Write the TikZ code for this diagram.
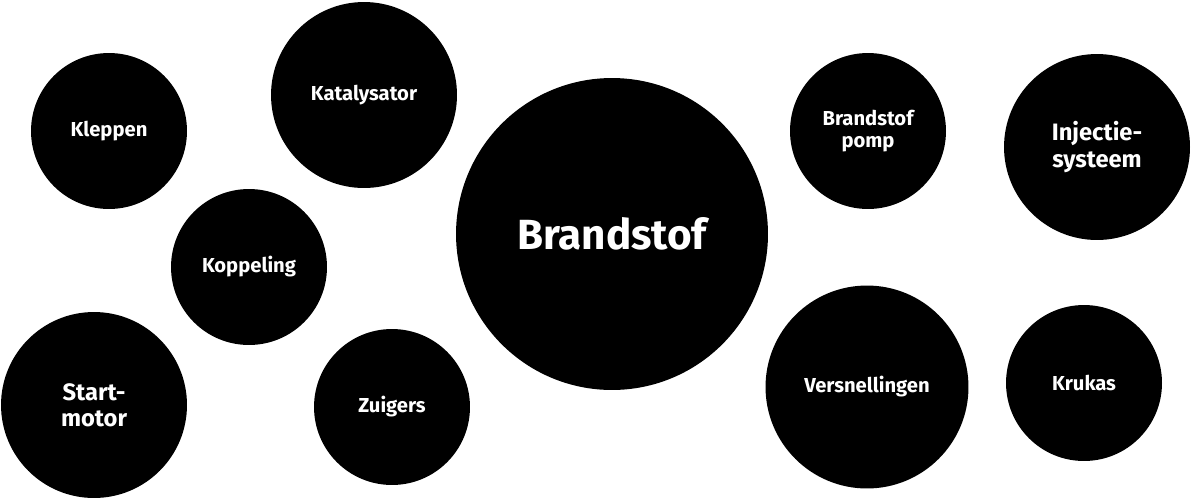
\documentclass[tikz,border=0pt]{standalone}
\usepackage{fontspec}
\setmainfont{Fira Sans}
\begin{document}
\begin{tikzpicture}[x=0.02cm,y=-0.02cm]
\tikzset{ bubble/.style={fill=black, circle, text=white, align=center, inner sep=0pt,
  font=\fontsize{11.5}{13}\selectfont\bfseries}, }
\useasboundingbox (0,0) rectangle (1192,501);

\node [bubble, minimum size=3.12cm] (KL) at (109,131) {Kleppen};
\node [bubble, minimum size=3.72cm] (KA) at (364,95)  {Katalysator};
\node [bubble, minimum size=3.12cm] (KO) at (249,267) {Koppeling};
\node [bubble, minimum size=3.72cm, font=\fontsize{13.5}{15}\selectfont\bfseries] (ST) at (94,405)  {Start-\\motor};
\node [bubble, minimum size=3.12cm] (ZU) at (392,407) {Zuigers};

\node [bubble, minimum size=6.24cm, font=\fontsize{24}{28}\selectfont\bfseries] (BR) at (612,234) {Brandstof};

\node [bubble, minimum size=3.12cm] (BP) at (868,131)  {Brandstof\\pomp};
\node [bubble, minimum size=3.72cm, font=\fontsize{13.5}{15}\selectfont\bfseries] (IN) at (1097,147) {Injectie-\\systeem};
\node [bubble, minimum size=4.06cm] (VE) at (867,387)  {Versnellingen};
\node [bubble, minimum size=3.12cm] (KR) at (1084,383) {Krukas};

\end{tikzpicture}
\end{document}
